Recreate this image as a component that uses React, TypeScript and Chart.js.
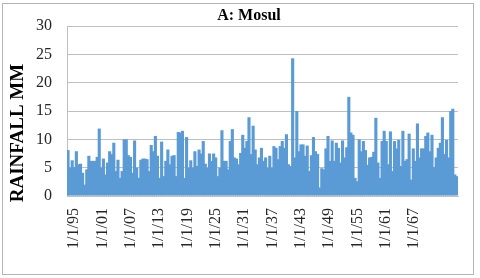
import React, { useEffect, useRef } from "react";
import { Chart, registerables } from "chart.js";

Chart.register(...registerables);

const TITLE = "A: Mosul";
const Y_TITLE = "RAINFALL MM";

// Rainfall readings (mm), read left to right from the picture
const RAIN_1995_2010 = [8.1, 5, 6.3, 5.1, 7.9, 5.6, 5.7, 4.1, 2, 4.7, 7.1, 6.2, 6.2, 6.2, 6.9, 11.9, 5, 6.6, 3.8, 5.9, 7.9, 7.4, 9.4, 4.4, 6.4, 3.2, 4.4, 10, 10, 7.2, 6.9, 4.1, 9.8, 5, 3.2, 6.4, 6.6, 6.6];
const RAIN_2010_2026 = [6.5, 4.4, 9, 7.9, 10.6, 7.1, 3.2, 9.6, 3.5, 6.2, 8.2, 5.6, 7.1, 7.2, 3.5, 11.3, 11.2, 11.5, 3.2, 10.4, 5, 6.3, 5, 7.9, 5.3, 8.2, 7.5, 9.7, 5.7, 5, 7.5, 6.2, 7.5, 6.8, 3.5, 5, 11.6, 6.2];
const RAIN_2026_2041 = [6.2, 4.7, 9.7, 11.8, 6.8, 6.6, 5.6, 7.6, 10.8, 8.5, 9.7, 13.9, 7.4, 12.4, 8.2, 5.6, 6.8, 8.5, 6.2, 6.8, 5, 7.1, 5, 8.8, 8.5, 6.5, 8.8, 9.7, 8.5, 10.9, 5.6, 5.3, 24.3, 6.8, 15, 7.9, 9.1];
const RAIN_2041_2057 = [9.1, 7.1, 8.9, 4.4, 7.2, 10.4, 7.9, 7.4, 1.5, 4.9, 4.7, 8.4, 10.6, 6.2, 9.8, 6.2, 9.4, 8.5, 5.9, 9.8, 6.8, 8.6, 17.5, 11.2, 10.8, 3.2, 2.6, 10, 7.9, 9.7, 8.1, 5.5, 6.8, 6.9, 7.8, 13.8, 5.9, 3.2, 9.7, 11.5];
const RAIN_2057_2071 = [9.7, 5.6, 11.4, 4.4, 9.7, 8.4, 9.9, 5.3, 11.5, 6.2, 6.5, 11, 2.9, 8.4, 6.2, 12.8, 6.8, 8.4, 8.4, 10.6, 11.2, 7.9, 10.8, 5.1, 6.8, 8.5, 9.4, 13.9, 7.4, 9.9, 6.8, 15, 15.4, 3.8, 3.5];

// Date-axis tick labels and their positions (years after 1/1/95)
const TICK_LABELS = ["1/1/95", "1/1/01", "1/1/07", "1/1/13", "1/1/19", "1/1/25", "1/1/31", "1/1/37", "1/1/43", "1/1/49", "1/1/55", "1/1/61", "1/1/67"];
const TICK_YEARS = [0, 6, 12, 18, 24, 30, 36, 42, 48, 54, 60, 66, 72];
const AXIS_SPAN_YEARS = 76.4;

const Y_MIN = 0;
const Y_MAX = 30;
const Y_STEP = 5;

const FONT = "'Liberation Serif', 'Times New Roman', serif";

export default function App() {
  const ref = useRef<HTMLCanvasElement | null>(null);

  useEffect(() => {
    const canvas = ref.current;
    if (!canvas) return;
    const values = [
      ...RAIN_1995_2010,
      ...RAIN_2010_2026,
      ...RAIN_2026_2041,
      ...RAIN_2041_2057,
      ...RAIN_2057_2071,
    ];
    const labels = values.map((_, i) => String(i));

    const decor = {
      id: "decor",
      beforeDraw(chart: any) {
        const ctx = chart.ctx;
        ctx.save();
        ctx.fillStyle = "#ffffff";
        ctx.fillRect(0, 0, chart.width, chart.height);
        ctx.strokeStyle = "#b4b4b4";
        ctx.lineWidth = 1;
        ctx.strokeRect(2.5, 3.5, 471, 271);
        ctx.restore();
      },
      afterDraw(chart: any) {
        const ctx = chart.ctx;
        ctx.save();
        ctx.fillStyle = "#000000";
        ctx.textAlign = "center";
        ctx.textBaseline = "middle";
        ctx.font = `bold 16px ${FONT}`;
        ctx.fillText(TITLE, 249, 16);
        ctx.translate(18, 133);
        ctx.rotate(-Math.PI / 2);
        ctx.font = `bold 19px ${FONT}`;
        ctx.fillText(Y_TITLE, 0, 0);
        ctx.restore();
      },
    };

    const chart = new Chart(canvas, {
      type: "bar",
      data: {
        labels,
        datasets: [
          {
            data: values,
            backgroundColor: "#5b9bd5",
            borderWidth: 0,
            barPercentage: 1.5,
            categoryPercentage: 1,
            xAxisID: "x",
          },
        ],
      },
      options: {
        responsive: false,
        animation: false,
        devicePixelRatio: 1,
        layout: { padding: { left: 0, top: 26, right: 22, bottom: 0 } },
        plugins: {
          legend: { display: false },
          title: { display: false },
          tooltip: { enabled: false },
        },
        scales: {
          x: {
            type: "category",
            display: false,
            offset: true,
          },
          xt: {
            type: "linear",
            position: "bottom",
            min: 0,
            max: AXIS_SPAN_YEARS,
            grid: { display: false, drawTicks: false },
            border: { display: true, color: "#bfbfbf" },
            afterBuildTicks: (scale: any) => {
              scale.ticks = TICK_YEARS.map((v) => ({ value: v }));
            },
            afterFit: (scale: any) => {
              scale.height = 82;
            },
            ticks: {
              autoSkip: false,
              minRotation: 90,
              maxRotation: 90,
              padding: 12,
              labelOffset: -8,
              color: "#262626",
              font: { family: FONT, size: 16 },
              callback: (_v: any, i: number) => TICK_LABELS[i],
            },
          },
          y: {
            min: Y_MIN,
            max: Y_MAX,
            afterFit: (scale: any) => {
              scale.width = 67;
            },
            ticks: {
              stepSize: Y_STEP,
              padding: 15,
              color: "#262626",
              font: { family: FONT, size: 16 },
            },
            grid: { color: "#bfbfbf", drawTicks: false },
            border: { display: true, color: "#bfbfbf" },
          },
        },
      },
      plugins: [decor],
    } as any);

    return () => chart.destroy();
  }, []);

  return (
    <div style={{ position: "fixed", left: 0, top: 0, width: 480, height: 278 }}>
      <canvas ref={ref} width={480} height={278} style={{ width: 480, height: 278 }} />
    </div>
  );
}
